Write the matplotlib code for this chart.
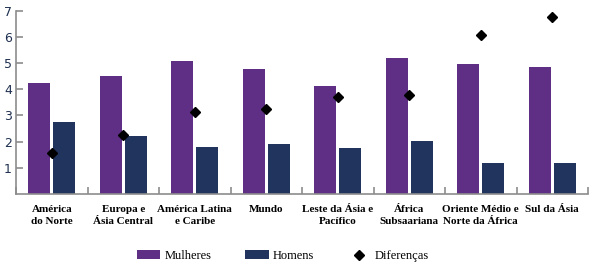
import numpy as np
import matplotlib
matplotlib.use('Agg')
from matplotlib import pyplot as plt

regioes = ['América\ndo Norte', 'Europa e\nÁsia Central', 'América Latina\ne Caribe', 'Mundo',
           'Leste da Ásia e\nPacífico', 'África\nSubsaariana', 'Oriente Médio e\nNorte da África',
           'Sul da Ásia']
mulheres = [4.25, 4.52, 5.09, 4.78, 4.13, 5.20, 4.97, 4.86]
homens = [2.76, 2.22, 1.80, 1.91, 1.77, 2.04, 1.20, 1.20]
diferencas = [1.56, 2.26, 3.14, 3.26, 3.69, 3.76, 6.07, 6.76]

roxo = '#5F2F86'
azul = '#21345E'
cinza = '#8C8C8C'

fig = plt.figure(figsize=(5.92, 2.65), dpi=100)
ax = fig.add_axes([16/592, 71/265, 572/592, 183.5/265])

x = np.arange(len(regioes))
w = 0.31
b1 = ax.bar(x - 0.175, mulheres, w, color=roxo, label='Mulheres')
b2 = ax.bar(x + 0.175, homens, w, color=azul, label='Homens')
l1, = ax.plot(x, diferencas, 'D', color='black', ms=5.5, ls='none', label='Diferenças')

ax.set_xlim(-0.5, len(regioes) - 0.5)
ax.set_ylim(0, 7)

for s in ['top', 'right']:
    ax.spines[s].set_visible(False)
for s in ['left', 'bottom']:
    ax.spines[s].set_color(cinza)
    ax.spines[s].set_linewidth(1.2)

ax.set_yticks(range(1, 8))
ax.tick_params(axis='y', direction='in', length=5, color=cinza, width=1.2,
               labelsize=9, labelcolor='#1F3050', pad=3)
for lb in ax.get_yticklabels():
    lb.set_family('DejaVu Sans')

ax.set_xticks(np.arange(-0.5, len(regioes)), minor=False)
ax.set_xticklabels([])
ax.tick_params(axis='x', which='major', direction='in', length=5, color=cinza, width=1.2)
ax.set_xticks(x, minor=True)
ax.set_xticklabels(regioes, minor=True, fontsize=8, fontweight='bold',
                   family='Liberation Serif', va='top', linespacing=1.4)
ax.tick_params(axis='x', which='minor', length=0, pad=8)

fig.legend([b1, b2, l1], ['Mulheres', 'Homens', 'Diferenças'],
           loc='center', bbox_to_anchor=(283/592, 9/265), ncol=3, frameon=False,
           prop={'family': 'Liberation Serif', 'size': 9}, handlelength=1.9,
           handletextpad=0.3, columnspacing=2.7)

fig.savefig('out.png', dpi=100)
